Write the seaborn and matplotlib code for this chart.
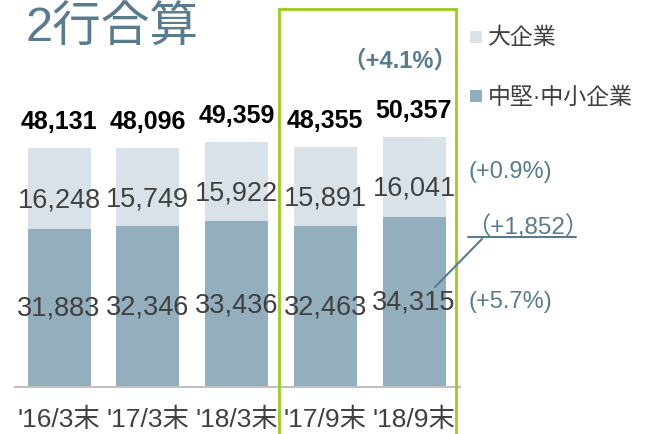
import numpy as np, pandas as pd
import matplotlib; matplotlib.use('Agg')
import matplotlib.pyplot as plt
import seaborn as sns
from matplotlib.lines import Line2D
from matplotlib.patches import Rectangle

PERIODS=["'16/3末","'17/3末","'18/3末","'17/9末","'18/9末"]
SME=[31883,32346,33436,32463,34315]       # 中堅・中小企業
LARGE=[16248,15749,15922,15891,16041]     # 大企業
TOTAL=[48131,48096,49359,48355,50357]

C_DARK='#93AEBD'; C_LIGHT='#D9E2E9'; C_ACC='#587B8D'; C_TXT='#404040'; C_GREEN='#9BCB1C'

sns.set_theme(style='white')
plt.rcParams['font.family']=['Liberation Sans','Noto Sans CJK JP','DejaVu Sans']

df=pd.DataFrame({'period':PERIODS,'sme':SME,'large':LARGE,'total':TOTAL})

W,H=645,435
fig=plt.figure(figsize=(W/100,H/100),dpi=100)
k=250/50357                       # px per unit
ax=fig.add_axes([15/W,(H-388)/H,445/W,378/H])
sns.barplot(data=df,x='period',y='total',color=C_LIGHT,saturation=1,width=0.71,ax=ax,linewidth=0,edgecolor='none')
sns.barplot(data=df,x='period',y='sme',color=C_DARK,saturation=1,width=0.71,ax=ax,linewidth=0,edgecolor='none')
ax.set_xlim(-0.496,4.518); ax.set_ylim(0,378/k)
ax.set_xlabel(''); ax.set_ylabel(''); ax.set_yticks([])
for s in ['top','right','left']: ax.spines[s].set_visible(False)
ax.spines['bottom'].set_color('#BFBFBF'); ax.spines['bottom'].set_linewidth(1.5)
ax.tick_params(axis='x',length=0,pad=14,labelsize=19,labelcolor=C_TXT)

for i,(a,b,t) in enumerate(zip(SME,LARGE,TOTAL)):
    ax.text(i,a/2,f'{a:,}',ha='center',va='center',fontsize=19.5,color=C_TXT)
    ax.text(i,a+b/2-11/k,f'{b:,}',ha='center',va='center',fontsize=19.5,color=C_TXT)
    ax.text(i,t+27/k,f'{t:,}',ha='center',va='center',fontsize=18,fontweight='bold',color='black')

def fx(x): return x/W
def fy(y): return 1-y/H

fig.text(fx(26),fy(29),'2行合算',fontsize=35,color=C_ACC,va='center',ha='left')

# legend
for y,c,lab in [(38,C_LIGHT,'大企業'),(97,C_DARK,'中堅·中小企業')]:
    fig.add_artist(Rectangle((fx(470),fy(y+6)),12/W,12/H,transform=fig.transFigure,color=c,lw=0))
    fig.text(fx(488),fy(y),lab,fontsize=16.5,color=C_TXT,va='center',ha='left')

# highlight box
fig.add_artist(Rectangle((fx(279),fy(440)),177/W,430/H,transform=fig.transFigure,
                         fill=False,ec=C_GREEN,lw=2,clip_on=False))

fig.text(fx(400),fy(61),'（+4.1%）',fontsize=17,fontweight='bold',color=C_ACC,ha='center',va='center')
fig.text(fx(468),fy(172),'(+0.9%)',fontsize=17,color=C_ACC,ha='left',va='center')
fig.text(fx(466),fy(227),'（+1,852）',fontsize=17.5,color=C_ACC,ha='left',va='center')
fig.add_artist(Line2D([fx(468),fx(576)],[fy(238),fy(238)],transform=fig.transFigure,color=C_ACC,lw=1.5))
fig.add_artist(Line2D([fx(482),fx(435)],[fy(240),fy(288)],transform=fig.transFigure,color=C_ACC,lw=1.5))
fig.text(fx(468),fy(302),'(+5.7%)',fontsize=17,color=C_ACC,ha='left',va='center')

fig.savefig('out.png',dpi=100)
